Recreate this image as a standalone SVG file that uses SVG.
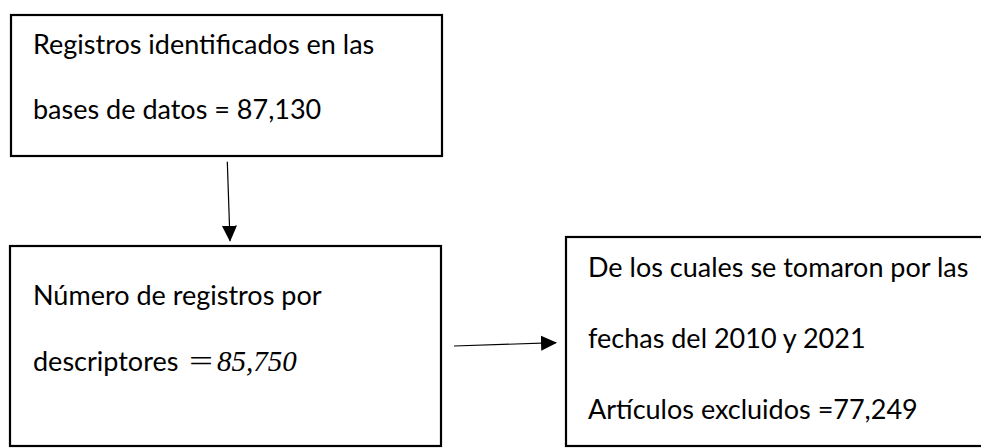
<svg xmlns="http://www.w3.org/2000/svg" width="981" height="448" viewBox="0 0 981 448">
<defs>
<style>
.box{fill:#fff;stroke:#000;stroke-width:2.2}
.t{font-family:Lato,"Open Sans","Liberation Sans",sans-serif;font-size:27px;fill:#000}
.m{font-family:"Liberation Serif","DejaVu Serif",serif;font-size:29px}
.c{stroke:#000;stroke-width:1.2;fill:none}
</style>
<marker id="ah" markerWidth="16" markerHeight="16" refX="15" refY="8" orient="auto" markerUnits="userSpaceOnUse">
<path d="M0,0.5 L16,8 L0,15.5 Z" fill="#000"/>
</marker>
</defs>
<rect width="981" height="448" fill="#fff"/>
<g id="node1">
<rect class="box" x="11" y="15" width="431" height="141"/>
<text class="t" x="33" y="54">Registros identificados en las</text>
<text class="t" x="33" y="119">bases de datos = 87,130</text>
</g>
<g id="node2">
<rect class="box" x="10" y="246" width="431" height="200"/>
<text class="t" x="33" y="305">Número de registros por</text>
<text class="t" x="33" y="371">descriptores <tspan class="m" x="189" textLength="24" lengthAdjust="spacingAndGlyphs">=</tspan><tspan class="m" x="217" font-style="italic">85,750</tspan></text>
</g>
<g id="node3">
<rect class="box" x="566" y="237" width="420" height="209"/>
<text class="t" x="588" y="277">De los cuales se tomaron por las</text>
<text class="t" x="588" y="348">fechas del 2010 y 2021</text>
<text class="t" x="588" y="419">Artículos excluidos =77,249</text>
</g>
<g id="connectors">
<line class="c" x1="227.3" y1="161.7" x2="230" y2="240.7" marker-end="url(#ah)"/>
<line class="c" x1="454" y1="346" x2="556" y2="342.7" marker-end="url(#ah)"/>
</g>
</svg>
